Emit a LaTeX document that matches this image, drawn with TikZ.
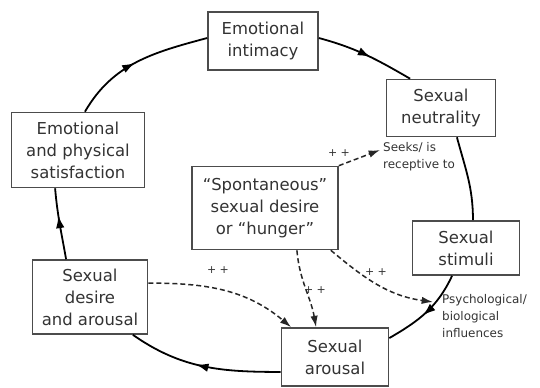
\documentclass[tikz,border=0pt]{standalone}
\usepackage{fontspec}
\setmainfont{DejaVu Sans}
\usetikzlibrary{arrows.meta,decorations.markings}

\tikzset{
  stage/.style={draw=black!70, line width=1.6bp, fill=white, align=center,
    inner sep=0pt, text=black!80, font=\fontsize{16.5}{22}\selectfont},
  cycle/.style={line width=1.8bp, black,
    postaction={decorate, decoration={markings,
      mark=at position #1 with {\arrow{Latex[length=4.5mm,width=3mm]}}}}},
  cycle/.default=0.5,
  plain/.style={line width=1.8bp, black},
  influence/.style={line width=1.5bp, black!85, dash pattern=on 5bp off 3bp,
    -{Latex[length=4mm,width=2.6mm]}},
  plus/.style={font=\fontsize{11}{11}\selectfont, text=black!80, inner sep=0pt},
  note/.style={font=\fontsize{12}{17}\selectfont, text=black!80, align=left, inner sep=0pt}
}

\begin{document}
\begin{tikzpicture}[x=1bp,y=1bp]
  \useasboundingbox (0,0) rectangle (540,387);

  % stages of the cycle
  \node[stage, minimum width=110bp, minimum height=58bp] (intimacy) at (263,346)
    {Emotional\\intimacy};
  \node[stage, minimum width=109bp, minimum height=57bp] (neutrality) at (441,279)
    {Sexual\\neutrality};
  \node[stage, minimum width=107bp, minimum height=54bp] (stimuli) at (466,139)
    {Sexual\\stimuli};
  \node[stage, minimum width=107bp, minimum height=58bp] (arousal) at (335,30)
    {Sexual\\arousal};
  \node[stage, minimum width=115bp, minimum height=74bp] (desire) at (90,90)
    {Sexual\\desire\\and arousal};
  \node[stage, minimum width=133bp, minimum height=75bp] (satisfaction) at (78,237)
    {Emotional\\and physical\\satisfaction};
  \node[stage, minimum width=146bp, minimum height=83bp] (spont) at (265,179)
    {“Spontaneous”\\sexual desire\\or “hunger”};

  % side labels
  \node[note, anchor=north west] (seeks) at (383,245) {Seeks/ is\\receptive to};
  \node[note, anchor=north west] (psych) at (442,93) {Psychological/\\biological\\influences};

  % the cycle
  \draw[cycle=0.55] ([yshift=3]intimacy.east) to[out=-15,in=150] ([xshift=-31]neutrality.north);
  \draw[plain] ([xshift=16]neutrality.south) to[out=-75,in=90] ([xshift=7]stimuli.north);
  \draw[cycle=0.55] ([xshift=-14]stimuli.south) to[out=-115,in=30] ([yshift=19]arousal.east);
  \draw[cycle=0.55] ([yshift=-15]arousal.west) to[out=180,in=-35] ([xshift=43]desire.south);
  \draw[cycle=0.62] ([xshift=-24]desire.north) to[out=100,in=-85] ([xshift=-23]satisfaction.south);
  \draw[cycle=0.48] ([xshift=7]satisfaction.north) to[out=60,in=195] ([yshift=3]intimacy.west);

  % spontaneous desire and its influences
  \draw[influence] (spont.north east) -- ([shift={(-3,-8)}]seeks.north west);
  \node[plus] (p1) at (339,234) {+ +};
  \draw[influence] ([xshift=-8]spont.south east) to[out=-40,in=172] ([shift={(-9,-8)}]psych.north west);
  \node[plus] (p2) at (376,115) {+ +};
  \draw[influence] ([xshift=32]spont.south) to[out=-85,in=100] ([xshift=-19]arousal.north);
  \node[plus] (p3) at (315,97) {+ +};
  \draw[influence] ([yshift=14]desire.east) to[out=0,in=140] ([xshift=-44]arousal.north);
  \node[plus] (p4) at (218,117) {+ +};
\end{tikzpicture}
\end{document}
